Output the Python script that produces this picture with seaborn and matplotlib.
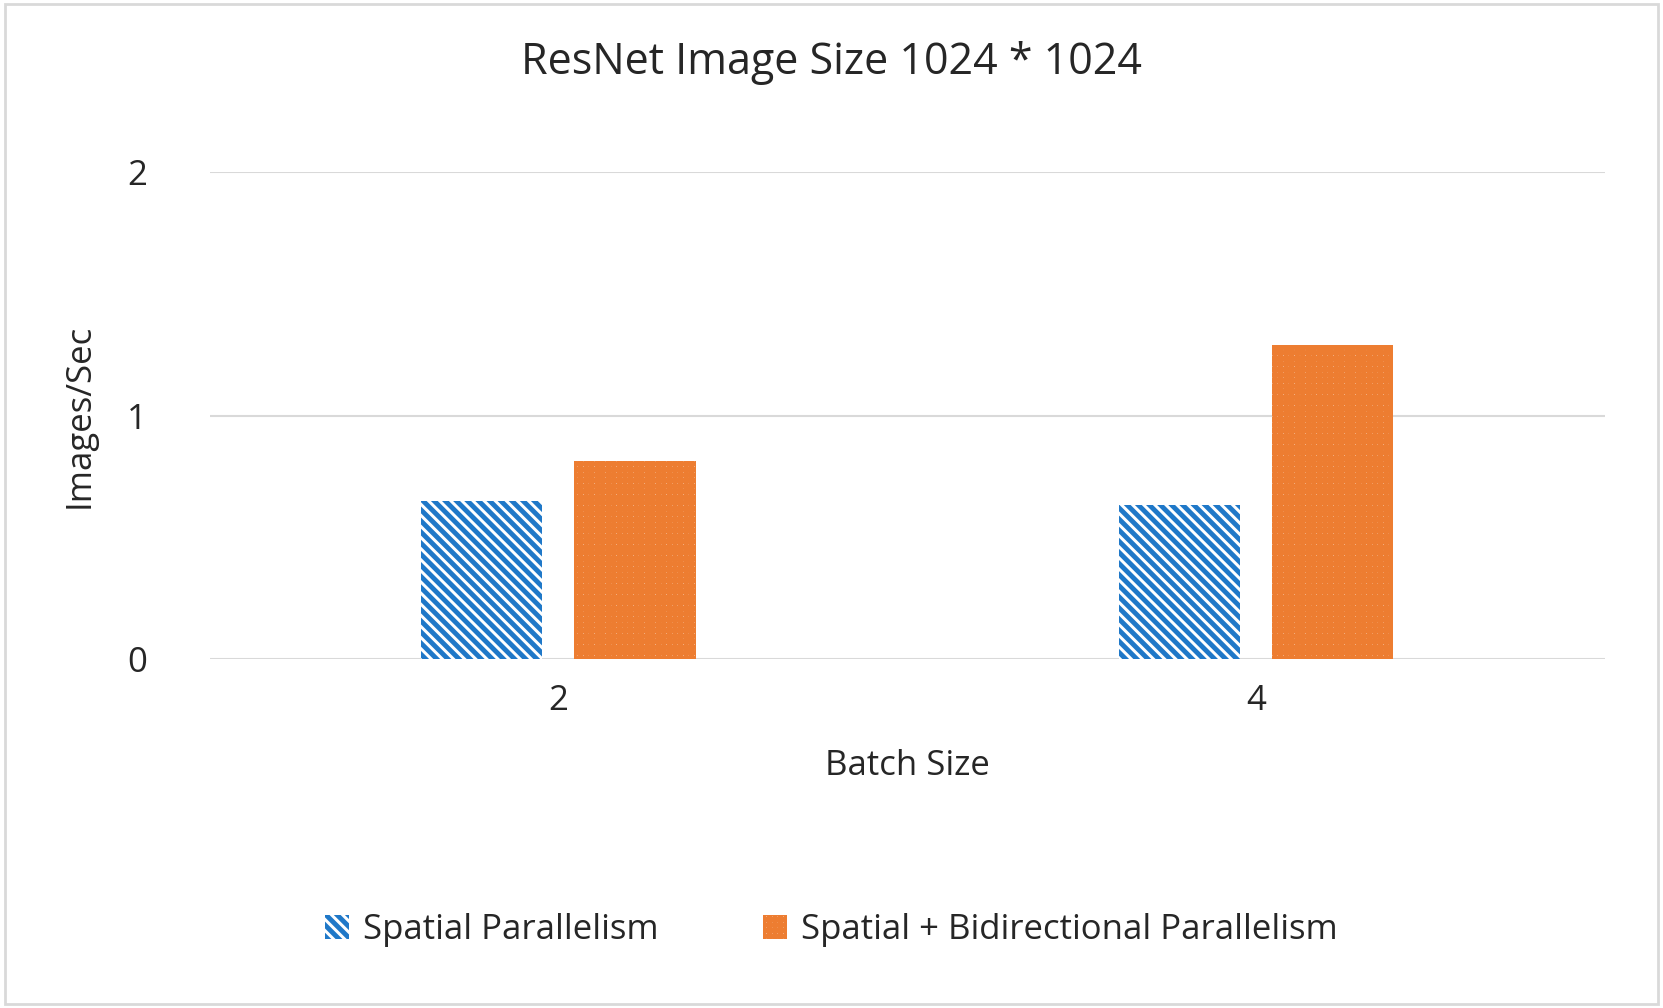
import matplotlib
matplotlib.use("Agg")
import matplotlib.pyplot as plt
import pandas as pd
import seaborn as sns
from matplotlib.patches import Rectangle

batch_sizes = ["2", "4"]
series = ["Spatial Parallelism", "Spatial + Bidirectional Parallelism"]
spatial = [0.648, 0.635]
spatial_bidir = [0.814, 1.29]

df = pd.DataFrame({
    "Batch Size": batch_sizes * 2,
    "Images/Sec": spatial + spatial_bidir,
    "series": [series[0]] * 2 + [series[1]] * 2,
})

sns.set_style("white")
plt.rcParams["font.family"] = ["Open Sans", "DejaVu Sans"]
plt.rcParams["hatch.linewidth"] = 3.5

fig = plt.figure(figsize=(16.63, 10.08), dpi=100)
ax = fig.add_axes([0.126, 0.346, 0.839, 0.483])
blue, orange = "#1F78C8", "#ED7D31"
sns.barplot(data=df, x="Batch Size", y="Images/Sec", hue="series", hue_order=series,
            width=0.44, gap=0.21, ax=ax, legend=False)

n = len(batch_sizes)
for i, patch in enumerate(ax.patches[:2 * n]):
    patch.set_facecolor("white")
    if i < n:
        patch.set_edgecolor(blue)
        patch.set_hatch("\\\\\\")
    else:
        patch.set_edgecolor(orange)
        patch.set_hatch("+++")
    patch.set_linewidth(0)

ax.set_ylim(0, 2)
ax.set_xlim(-0.5, 1.5)
ax.set_yticks([0, 1, 2])
ax.yaxis.grid(True, color="#D9D9D9", lw=1.5)
ax.set_axisbelow(True)
for s in ax.spines.values():
    s.set_visible(False)
ax.tick_params(axis="both", length=0, labelsize=25, pad=18)
ax.tick_params(axis="y", pad=45)
ax.set_xlabel("Batch Size", fontsize=25, labelpad=22)
ax.set_ylabel("Images/Sec", fontsize=25, labelpad=22)
fig.suptitle("ResNet Image Size 1024 * 1024", fontsize=31, y=0.96)

handles = [
    Rectangle((0, 0), 1, 1, facecolor="white", edgecolor=blue, hatch="\\\\\\", lw=0),
    Rectangle((0, 0), 1, 1, facecolor="white", edgecolor=orange, hatch="+++", lw=0),
]
fig.legend(handles, series, loc="center", bbox_to_anchor=(0.5, 0.077), ncol=2,
           frameon=False, fontsize=25, handlelength=0.7, handleheight=0.7,
           columnspacing=3, handletextpad=0.4)

fig.patches.append(Rectangle((0.003, 0.004), 0.994, 0.992, transform=fig.transFigure,
                             fill=False, edgecolor="#D9D9D9", lw=2))
fig.savefig("out.png", dpi=100, facecolor="white")
